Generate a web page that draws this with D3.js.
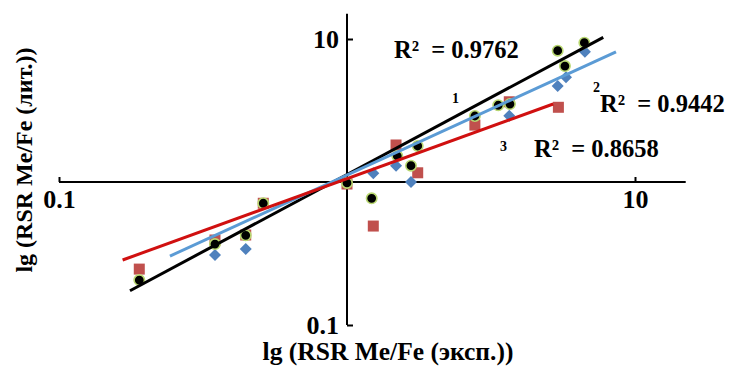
<!DOCTYPE html>
<html>
<head>
<meta charset="utf-8">
<script src="https://cdn.jsdelivr.net/npm/d3@7"></script>
<style>
  body { margin: 0; background: #fff; }
  text { font-family: "Liberation Serif", "Times New Roman", serif; font-weight: bold; }
</style>
</head>
<body>
<div id="chart"></div>
<script>
// Series 1 (black circles) - RSR experimental vs literature
const s1x = [0.190, 0.348, 0.445, 0.512, 1.00, 1.218, 1.495, 1.668, 1.76, 2.78, 3.35, 3.68, 5.39, 5.71, 6.67];
const s1y = [0.206, 0.368, 0.424, 0.710, 0.985, 0.769, 1.52, 1.30, 1.786, 2.894, 3.44, 3.51, 8.28, 6.47, 9.42];
// Series 2 (blue diamonds)
const s2x = [0.348, 0.445, 1.234, 1.48, 1.668, 3.66, 5.39, 5.76, 6.70];
const s2y = [0.309, 0.340, 1.15, 1.30, 1.00, 2.91, 4.69, 5.40, 8.15];
// Series 3 (red squares)
const s3x = [0.190, 0.348, 0.445, 0.512, 1.00, 1.234, 1.48, 1.76, 2.78, 3.66, 5.42];
const s3y = [0.246, 0.393, 0.426, 0.710, 0.968, 0.492, 1.815, 1.16, 2.50, 3.64, 3.33];

// power trendlines: lg y = b + m * lg x, drawn between xFrom and xTo
const trendNames = ["1", "2", "3"];
const trendSlope = [1.078, 0.922, 0.7296];
const trendIntercept = [0.052, 0.049, 0.023];
const trendFrom = [0.1764, 0.2428, 0.1663];
const trendTo = [7.76, 8.59, 5.20];
const r2Labels = ["R²  = 0.9762", "R²  = 0.9442", "R²  = 0.8658"];

const tickValues = [0.1, 10];
const axisEnd = 15;

const width = 730, height = 367;

const svg = d3.select("#chart").append("svg")
    .attr("width", width)
    .attr("height", height);

const x = d3.scaleLog().domain([0.1, 10]).range([59, 635]);
const y = d3.scaleLog().domain([0.1, 10]).range([325, 39]);

// X axis (through y = 1)
const xAxis = svg.append("g")
    .attr("transform", `translate(0,${y(1)})`)
    .call(d3.axisBottom(x).tickValues(tickValues).tickSizeInner(-5).tickSizeOuter(0).tickPadding(8)
        .tickFormat(d3.format("~g")));
xAxis.select(".domain").remove();
xAxis.append("line")
    .attr("x1", x(0.1)).attr("x2", x(axisEnd))
    .attr("stroke", "#000").attr("stroke-width", 2);
xAxis.selectAll(".tick line").attr("stroke-width", 2);
xAxis.selectAll("text").attr("font-size", 26).attr("fill", "#000")
    .style("font-family", "'Liberation Serif', serif").style("font-weight", "bold");

// Y axis (through x = 1)
const yAxis = svg.append("g")
    .attr("transform", `translate(${x(1)},0)`)
    .call(d3.axisLeft(y).tickValues(tickValues).tickSizeInner(-6).tickSizeOuter(0).tickPadding(8)
        .tickFormat(d3.format("~g")));
yAxis.select(".domain").remove();
yAxis.append("line")
    .attr("y1", y(0.1)).attr("y2", y(axisEnd))
    .attr("stroke", "#000").attr("stroke-width", 2);
yAxis.selectAll(".tick line").attr("stroke-width", 2);
yAxis.selectAll("text").attr("font-size", 26).attr("fill", "#000")
    .style("font-family", "'Liberation Serif', serif").style("font-weight", "bold");

// markers: squares, diamonds, circles
const s3 = s3x.map((v, i) => [v, s3y[i]]);
const s2 = s2x.map((v, i) => [v, s2y[i]]);
const s1 = s1x.map((v, i) => [v, s1y[i]]);

svg.append("g").selectAll("rect")
    .data(s3)
    .enter().append("rect")
    .attr("x", d => x(d[0]) - 5.5)
    .attr("y", d => y(d[1]) - 5.5)
    .attr("width", 11)
    .attr("height", 11)
    .attr("fill", "#c0504d");

svg.append("g").selectAll("path")
    .data(s2)
    .enter().append("path")
    .attr("d", d => {
        const cx = x(d[0]), cy = y(d[1]);
        return `M${cx},${cy - 6}L${cx + 6},${cy}L${cx},${cy + 6}L${cx - 6},${cy}Z`;
    })
    .attr("fill", "#4f81bd");

svg.append("g").selectAll("circle")
    .data(s1)
    .enter().append("circle")
    .attr("cx", d => x(d[0]))
    .attr("cy", d => y(d[1]))
    .attr("r", 5.2)
    .attr("fill", "#000")
    .attr("stroke", "#b9d871")
    .attr("stroke-width", 1.6);

// trendlines
const trendColors = ["#000000", "#5b9bd5", "#d01010"];
const line = d3.line().x(d => x(d[0])).y(d => y(d[1]));
trendNames.forEach((n, i) => {
    const f = v => Math.pow(10, trendIntercept[i] + trendSlope[i] * Math.log10(v));
    svg.append("path")
        .datum([[trendFrom[i], f(trendFrom[i])], [trendTo[i], f(trendTo[i])]])
        .attr("d", line)
        .attr("fill", "none")
        .attr("stroke", trendColors[i])
        .attr("stroke-width", 3);
});

// R² labels and series numbers
const r2Pos = [[394, 58], [600, 112], [534, 157]];
r2Labels.forEach((t, i) => {
    svg.append("text")
        .attr("x", r2Pos[i][0])
        .attr("y", r2Pos[i][1])
        .attr("font-size", 24.5)
        .style("white-space", "pre")
        .text(t);
});
const numPos = [[452, 103], [593, 92], [500, 151]];
trendNames.forEach((t, i) => {
    svg.append("text")
        .attr("x", numPos[i][0])
        .attr("y", numPos[i][1])
        .attr("font-size", 14)
        .text(t);
});

// axis titles
svg.append("text")
    .attr("x", 388)
    .attr("y", 360)
    .attr("text-anchor", "middle")
    .attr("font-size", 25.5)
    .text("lg (RSR Me/Fe (эксп.))");

svg.append("text")
    .attr("transform", "translate(32,160) rotate(-90)")
    .attr("text-anchor", "middle")
    .attr("font-size", 24)
    .text("lg (RSR Me/Fe (лит.))");
</script>
</body>
</html>
